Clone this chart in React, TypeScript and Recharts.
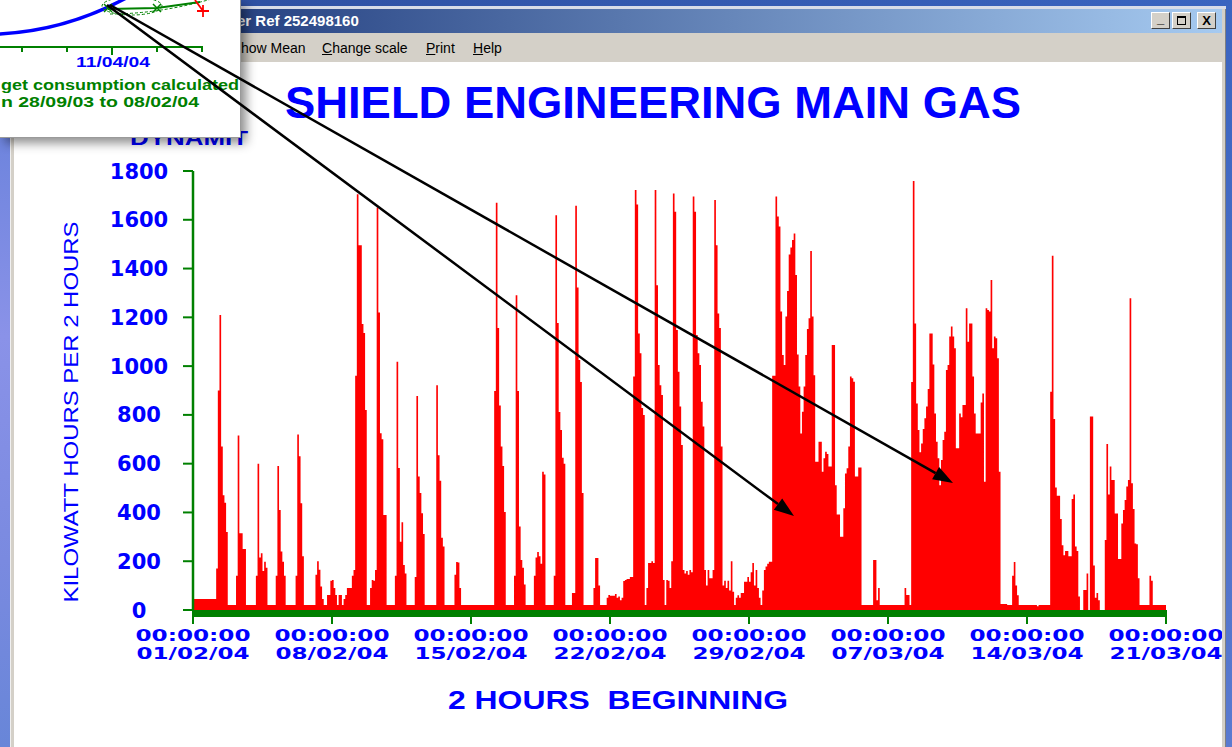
import React from 'react';
import { AreaChart, Area, XAxis, YAxis } from 'recharts';

// kWh per 2-hour slot, one week per array (7 days x 12 slots)
const week1 = [
  45, 45, 45, 45, 45, 45, 45, 45, 45, 45, 45, 45,
  45, 45, 170, 900, 1210, 670, 470, 440, 320, 20, 20, 20,
  20, 20, 140, 715, 315, 315, 250, 250, 20, 20, 20, 20,
  20, 20, 140, 600, 215, 233, 160, 198, 173, 20, 20, 20,
  20, 20, 140, 590, 410, 240, 198, 140, 20, 20, 20, 20,
  20, 20, 140, 720, 630, 438, 220, 20, 20, 20, 20, 20,
  20, 20, 145, 200, 165, 96, 45, 20, 20, 62, 62, 120,
];
const week2 = [
  123, 90, 62, 20, 62, 62, 20, 45, 62, 90, 90, 90,
  140, 164, 960, 1705, 1496, 1496, 1173, 1136, 820, 20, 20, 90,
  123, 120, 164, 1650, 1220, 725, 700, 390, 390, 20, 20, 20,
  20, 20, 140, 1018, 582, 280, 360, 185, 150, 20, 20, 20,
  20, 20, 135, 877, 547, 480, 397, 312, 20, 20, 20, 20,
  20, 20, 20, 922, 635, 530, 296, 260, 20, 20, 20, 20,
  20, 20, 145, 197, 195, 90, 20, 20, 20, 20, 20, 20,
];
const week3 = [
  20, 20, 20, 20, 20, 20, 20, 20, 20, 20, 20, 20,
  20, 20, 898, 1670, 1156, 838, 670, 590, 402, 20, 20, 20,
  20, 20, 140, 1291, 898, 342, 205, 173, 105, 20, 20, 20,
  20, 20, 140, 215, 238, 220, 190, 567, 556, 20, 20, 20,
  20, 20, 140, 1619, 1177, 812, 738, 624, 600, 20, 20, 20,
  20, 70, 70, 1658, 1322, 1025, 935, 480, 20, 20, 20, 20,
  20, 20, 90, 213, 213, 100, 20, 20, 20, 20, 50, 62,
];
const week4 = [
  58, 58, 58, 66, 50, 55, 40, 50, 119, 123, 127, 127,
  135, 135, 957, 1722, 1663, 1134, 1053, 828, 800, 20, 90, 193,
  193, 200, 193, 1722, 1332, 1005, 922, 882, 123, 20, 123, 120,
  90, 200, 1708, 1633, 1148, 977, 834, 677, 164, 150, 160, 145,
  164, 155, 1695, 1633, 1128, 1053, 1005, 854, 752, 164, 100, 164,
  130, 130, 164, 1681, 1496, 1216, 1156, 670, 100, 120, 90, 120,
  80, 200, 75, 20, 50, 60, 50, 70, 70, 116, 116, 135,
];
const week5 = [
  116, 155, 193, 100, 164, 90, 50, 20, 80, 164, 178, 190,
  198, 198, 960, 960, 1695, 1613, 1572, 1224, 1046, 1005, 1203, 1308,
  1458, 1486, 1517, 1544, 1374, 1048, 916, 724, 813, 916, 1046, 1152,
  1196, 1472, 1203, 963, 608, 608, 690, 690, 567, 622, 649, 640,
  588, 588, 1087, 1087, 512, 392, 392, 300, 300, 417, 560, 581,
  670, 957, 950, 936, 547, 547, 584, 584, 20, 20, 20, 20,
  20, 20, 20, 205, 205, 40, 90, 20, 20, 20, 20, 20,
];
const week6 = [
  20, 20, 20, 20, 20, 20, 20, 20, 20, 20, 90, 62,
  62, 20, 935, 1759, 1175, 847, 738, 647, 683, 742, 786, 834,
  906, 1134, 1134, 1007, 806, 690, 622, 512, 615, 697, 731, 984,
  1005, 1121, 1162, 1121, 1073, 663, 663, 806, 790, 841, 841, 1237,
  1100, 1175, 1175, 957, 806, 724, 724, 724, 851, 888, 526, 1237,
  1230, 1224, 1353, 1073, 1121, 1114, 1032, 567, 25, 25, 25, 25,
  20, 20, 20, 140, 197, 100, 60, 20, 20, 20, 20, 20,
];
const week7 = [
  20, 20, 20, 20, 20, 20, 15, 20, 20, 20, 20, 20,
  20, 20, 895, 1453, 783, 502, 468, 468, 373, 266, 225, 242,
  242, 220, 220, 455, 474, 260, 242, 55, 0, 0, 82, 82,
  150, 0, 793, 793, 182, 50, 70, 40, 0, 0, 0, 287,
  681, 474, 588, 533, 533, 396, 396, 209, 209, 355, 410, 451,
  506, 533, 1278, 520, 414, 273, 270, 130, 20, 20, 20, 20,
  20, 20, 140, 120, 20, 20, 20, 20, 20, 20, 20, 20,
];

const weekStartDates = ['01/02/04', '08/02/04', '15/02/04', '22/02/04', '29/02/04', '07/03/04', '14/03/04', '21/03/04'];
const tickTime = '00:00:00';
const yTicks = [0, 200, 400, 600, 800, 1000, 1200, 1400, 1600, 1800];
const weeks = [week1, week2, week3, week4, week5, week6, week7];

const kwh: number[] = weeks.flat();
const slotsPerWeek = week1.length;
const totalSlots = kwh.length;
const data = kwh.map((v, i) => ({ slot: i, kwh: v }));
data.push({ slot: totalSlots, kwh: kwh[totalSlots - 1] });
const xTicks = weekStartDates.map((_, k) => k * slotsPerWeek);

const BLUE = '#0000ff';
const GREEN = '#008000';

const XTick = (props: any) => {
  const { x, y, payload } = props;
  const k = xTicks.indexOf(payload.value);
  return (
    <g>
      <text x={x} y={y + 16.5} textAnchor="middle" fill={BLUE} fontFamily="DejaVu Sans" fontWeight="bold" fontSize={16}
        textLength={115} lengthAdjust="spacingAndGlyphs">{tickTime}</text>
      <text x={x} y={y + 35} textAnchor="middle" fill={BLUE} fontFamily="DejaVu Sans" fontWeight="bold" fontSize={16}
        textLength={113} lengthAdjust="spacingAndGlyphs">{weekStartDates[k]}</text>
    </g>
  );
};

const YTick = (props: any) => {
  const { x, y, payload } = props;
  return (
    <text x={x - 44} y={y + 7.5} textAnchor="middle" fill={BLUE} fontFamily="DejaVu Sans" fontWeight="bold" fontSize={21}>
      {payload.value}
    </text>
  );
};

const btn: React.CSSProperties = {
  position: 'absolute', top: 12, width: 19, height: 17, background: '#d4d0c8',
  borderTop: '1px solid #ffffff', borderLeft: '1px solid #ffffff', borderRight: '1px solid #404040', borderBottom: '1px solid #404040',
  boxSizing: 'border-box', fontFamily: 'Liberation Sans', fontWeight: 'bold', fontSize: 13, color: '#000', textAlign: 'center', lineHeight: '15px',
};

const menuText: React.CSSProperties = { position: 'absolute', top: 40, fontFamily: 'Liberation Sans', fontSize: 14, color: '#000', whiteSpace: 'pre' };

export default function App() {
  return (
    <div style={{ position: 'absolute', left: 0, top: 0, width: 1232, height: 747, overflow: 'hidden', background: '#ffffff' }}>
      {/* desktop / window chrome */}
      <div style={{ position: 'absolute', left: 0, top: 0, width: 1232, height: 6, background: 'linear-gradient(to right, #2c4c9c, #3a64c0)' }} />
      <div style={{ position: 'absolute', left: 0, top: 6, width: 1232, height: 3, background: '#d8dce8' }} />
      <div style={{ position: 'absolute', left: 0, top: 0, width: 10, height: 747, background: 'linear-gradient(to bottom, #5b7bd6, #8a92e8 45%, #7a8ae0 75%, #6886d8)' }} />
      <div style={{ position: 'absolute', left: 10, top: 9, width: 4, height: 738, background: '#d4d0c8', borderLeft: '1px solid #f0f0f0', boxSizing: 'border-box' }} />
      <div style={{ position: 'absolute', left: 14, top: 9, width: 1208, height: 24, background: 'linear-gradient(to right, #0a246a, #a6caf0)' }} />
      <div style={{ position: 'absolute', left: 237, top: 12, fontFamily: 'Liberation Sans', fontWeight: 'bold', fontSize: 15, color: '#ffffff', whiteSpace: 'pre' }}>er Ref 252498160</div>
      <div style={{ ...btn, left: 1151 }}><span style={{ position: 'relative', top: -2 }}>_</span></div>
      <div style={{ ...btn, left: 1172 }}>
        <div style={{ position: 'absolute', left: 4, top: 3, width: 9, height: 9, border: '1px solid #000', borderTop: '2px solid #000', boxSizing: 'border-box' }} />
      </div>
      <div style={{ ...btn, left: 1197 }}>X</div>
      <div style={{ position: 'absolute', left: 14, top: 33, width: 1208, height: 29, background: '#d4d0c8' }} />
      <div style={{ ...menuText, left: 241 }}>how Mean</div>
      <div style={{ ...menuText, left: 322 }}><u>C</u>hange scale</div>
      <div style={{ ...menuText, left: 426 }}><u>P</u>rint</div>
      <div style={{ ...menuText, left: 473 }}><u>H</u>elp</div>

      {/* titles */}
      <svg width={1232} height={747} style={{ position: 'absolute', left: 0, top: 0 }}>
        <text x={285} y={118} fill={BLUE} fontFamily="Liberation Sans" fontWeight="bold" fontSize={44} textLength={736} lengthAdjust="spacingAndGlyphs">SHIELD ENGINEERING MAIN GAS</text>
        <text x={130} y={145} fill={BLUE} fontFamily="Liberation Sans" fontWeight="bold" fontSize={21} textLength={118} lengthAdjust="spacingAndGlyphs">DYNAMIT</text>
        <text x={78} y={412} transform="rotate(-90 78 412)" textAnchor="middle" fill={BLUE} fontFamily="Liberation Sans" fontSize={21} textLength={381} lengthAdjust="spacingAndGlyphs">KILOWATT HOURS PER 2 HOURS</text>
        <text x={618} y={709} textAnchor="middle" fill={BLUE} fontFamily="Liberation Sans" fontWeight="bold" fontSize={26} textLength={340} lengthAdjust="spacingAndGlyphs" style={{ whiteSpace: 'pre' }}>2 HOURS  BEGINNING</text>
      </svg>

      {/* chart */}
      <div style={{ position: 'absolute', left: 0, top: 0 }}>
        <AreaChart width={1232} height={747} data={data} margin={{ top: 171, right: 66, bottom: 77, left: 93 }}>
          <Area type="stepAfter" dataKey="kwh" stroke="none" fill="#ff0000" fillOpacity={1} isAnimationActive={false} dot={false} activeDot={false} />
          <XAxis type="number" dataKey="slot" domain={[0, totalSlots]} ticks={xTicks} interval={0} height={60}
            axisLine={{ stroke: GREEN, strokeWidth: 7, transform: 'translate(0,3.5)' }}
            tickLine={{ stroke: GREEN, strokeWidth: 2 }} tickSize={14} tickMargin={0} tick={<XTick />} />
          <YAxis type="number" domain={[0, 1800]} ticks={yTicks} interval={0} width={100}
            axisLine={{ stroke: GREEN, strokeWidth: 2.5 }} tickLine={{ stroke: GREEN, strokeWidth: 2 }}
            tickSize={10} tickMargin={0} tick={<YTick />} />
        </AreaChart>
      </div>

      {/* inset from another window */}
      <div style={{ position: 'absolute', left: 0, top: 0, width: 241, height: 138, background: '#ffffff', borderRight: '1px solid #9a9a9a', borderBottom: '1px solid #9a9a9a', boxSizing: 'border-box', boxShadow: '5px 5px 10px rgba(0,0,0,0.45)' }}>
        <svg width={240} height={137} style={{ position: 'absolute', left: 0, top: 0 }}>
          <path d="M -2 34 Q 66 31 128 -3" stroke={BLUE} strokeWidth={3.5} fill="none" />
          <ellipse cx={132} cy={6} rx={30} ry={9} stroke={GREEN} strokeWidth={1} strokeDasharray="3 2" fill="none" />
          <path d="M 110 14 Q 160 14 215 -2" stroke={GREEN} strokeWidth={1} strokeDasharray="3 2" fill="none" />
          <polyline points="108,9 157,8 200,2" stroke={GREEN} strokeWidth={2} fill="none" />
          <path d="M 104 4 L 112 12 M 112 4 L 104 12 M 153 4 L 161 12 M 161 4 L 153 12" stroke={GREEN} strokeWidth={1.5} />
          <path d="M 195 0 L 203 11 M 197 11 L 209 11 M 203 5 L 203 17" stroke="#ff0000" strokeWidth={1.8} />
          <line x1={0} y1={47} x2={203} y2={47} stroke={GREEN} strokeWidth={2} />
          <path d="M 22 47 L 22 52 M 67 47 L 67 52 M 112 47 L 112 55 M 157 47 L 157 52 M 202 47 L 202 52" stroke={GREEN} strokeWidth={2} />
          <text x={113} y={67} textAnchor="middle" fill={BLUE} fontFamily="Liberation Sans" fontWeight="bold" fontSize={15} textLength={74} lengthAdjust="spacingAndGlyphs">11/04/04</text>
          <text x={1} y={90} fill={GREEN} fontFamily="Liberation Sans" fontWeight="bold" fontSize={14} textLength={238} lengthAdjust="spacingAndGlyphs">get consumption calculated</text>
          <text x={1} y={107} fill={GREEN} fontFamily="Liberation Sans" fontWeight="bold" fontSize={14} textLength={198} lengthAdjust="spacingAndGlyphs">n 28/09/03 to 08/02/04</text>
        </svg>
      </div>

      {/* right window frame */}
      <div style={{ position: 'absolute', left: 1222, top: 9, width: 4, height: 738, background: '#d4d0c8', borderRight: '1px solid #808080', boxSizing: 'border-box' }} />
      <div style={{ position: 'absolute', left: 1226, top: 0, width: 6, height: 747, background: 'linear-gradient(to bottom, #3a64c0, #5a7ad0)' }} />

      {/* annotation arrows */}
      <svg width={1232} height={747} style={{ position: 'absolute', left: 0, top: 0 }}>
        <line x1={110} y1={5} x2={935.6} y2={473.1} stroke="#000" strokeWidth={2.5} />
        <polygon points="953,483 932.1,479.2 939.1,467.0" fill="#000" />
        <line x1={107} y1={5} x2={778} y2={504.1} stroke="#000" strokeWidth={2.5} />
        <polygon points="794,516 773.8,509.7 782.2,498.5" fill="#000" />
      </svg>
    </div>
  );
}
